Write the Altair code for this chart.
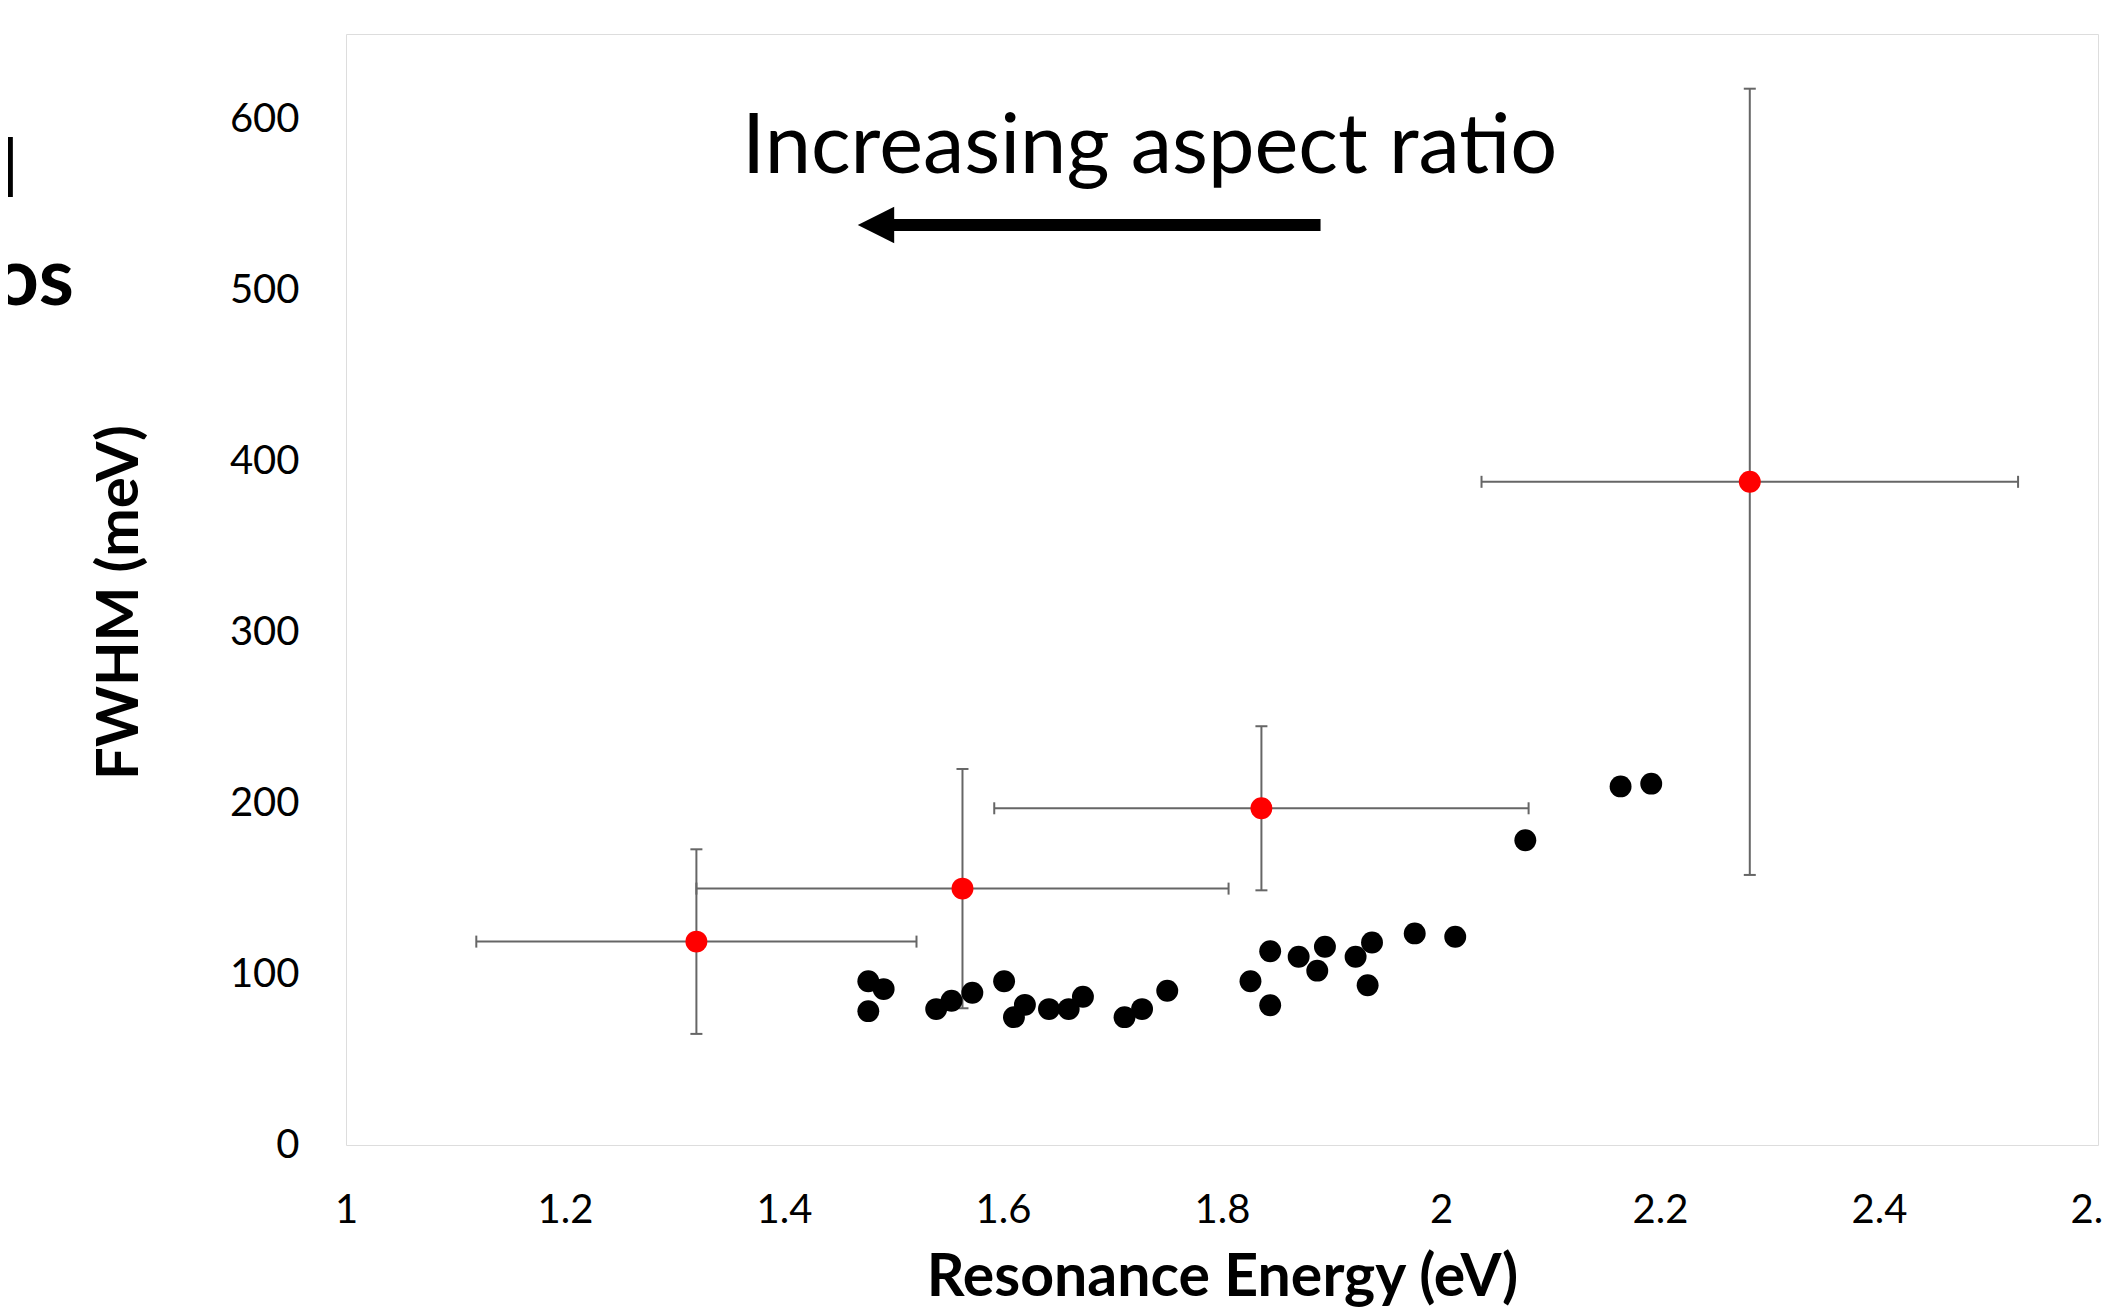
import altair as alt
import pandas as pd

# ---- data ----
black_x = [1.477, 1.491, 1.477, 1.539, 1.553, 1.572, 1.601, 1.610, 1.620, 1.642,
           1.660, 1.673, 1.711, 1.727, 1.750, 1.826, 1.844, 1.844, 1.870, 1.887,
           1.894, 1.922, 1.933, 1.937, 1.976, 2.013, 2.077, 2.164, 2.192]
black_y = [95.8, 91.2, 78.3, 79.5, 84.4, 89.1, 95.8, 74.8, 82.0, 79.5,
           79.5, 86.7, 74.8, 79.5, 90.2, 95.8, 113.4, 81.8, 110.1, 102.0,
           116.0, 110.1, 93.5, 118.5, 123.8, 121.8, 178.3, 209.8, 211.4]

red_x = [1.320, 1.563, 1.836, 2.282]
red_y = [119, 150, 197, 388]
red_xerr = [0.201, 0.243, 0.244, 0.245]
red_yerr = [54, 70, 48, 230]

x_ticks = [1, 1.2, 1.4, 1.6, 1.8, 2, 2.2, 2.4, 2.6]
y_ticks = [0, 100, 200, 300, 400, 500, 600]

# annotation (data units)
note_text = ["Increasing aspect ratio"]
note_x = [1.734]
note_y = [568.5]
arrow_tail_x = [1.890]
arrow_base_x = [1.497]
arrow_head_x = [1.484]
arrow_y = [538.3]

# cropped text fragments at the figure's left edge
frag_text = ["l", "os"]

FONT = "Lato"
ERR_COLOR = "#666666"

black_df = pd.DataFrame({"E": black_x, "F": black_y})
red_df = pd.DataFrame({"E": red_x, "F": red_y, "dx": red_xerr, "dy": red_yerr})
red_df["xlo"] = red_df["E"] - red_df["dx"]
red_df["xhi"] = red_df["E"] + red_df["dx"]
red_df["ylo"] = red_df["F"] - red_df["dy"]
red_df["yhi"] = red_df["F"] + red_df["dy"]

x_scale = alt.Scale(domain=[1, 2.6], nice=False, zero=False)
y_scale = alt.Scale(domain=[0, 650], nice=False, zero=False)

x_axis = alt.Axis(values=x_ticks, format="~g", grid=False, ticks=False, domain=False,
                  labelFont=FONT, labelFontSize=40, labelColor="black", labelPadding=45,
                  labelFlush=False, labelOverlap=False,
                  title="Resonance Energy (eV)", titleFont=FONT, titleFontSize=59,
                  titleFontWeight="bold", titleColor="black", titleBaseline="middle",
                  titleY=132, titleX=876)
y_axis = alt.Axis(values=y_ticks, format="d", grid=False, ticks=False, domain=False,
                  labelFont=FONT, labelFontSize=40, labelColor="black", labelPadding=47,
                  labelFlush=False, labelOverlap=False,
                  title="FWHM (meV)", titleFont=FONT, titleFontSize=58,
                  titleFontWeight="bold", titleColor="black", titleAngle=270,
                  titleAlign="center", titleBaseline="middle", titleX=-226, titleY=568)


def X(field):
    return alt.X(field, type="quantitative", scale=x_scale, axis=x_axis)


def Y(field):
    return alt.Y(field, type="quantitative", scale=y_scale, axis=y_axis)


red_base = alt.Chart(red_df)

h_err = red_base.mark_rule(color=ERR_COLOR, strokeWidth=2).encode(x=X("xlo"), x2="xhi", y=Y("F"))
v_err = red_base.mark_rule(color=ERR_COLOR, strokeWidth=2).encode(x=X("E"), y=Y("ylo"), y2="yhi")
cap_xlo = red_base.mark_tick(orient="vertical", size=12, thickness=2, color=ERR_COLOR, opacity=1).encode(x=X("xlo"), y=Y("F"))
cap_xhi = red_base.mark_tick(orient="vertical", size=12, thickness=2, color=ERR_COLOR, opacity=1).encode(x=X("xhi"), y=Y("F"))
cap_ylo = red_base.mark_tick(orient="horizontal", size=12, thickness=2, color=ERR_COLOR, opacity=1).encode(x=X("E"), y=Y("ylo"))
cap_yhi = red_base.mark_tick(orient="horizontal", size=12, thickness=2, color=ERR_COLOR, opacity=1).encode(x=X("E"), y=Y("yhi"))

black_pts = alt.Chart(black_df).mark_point(filled=True, shape="circle", size=480, color="black",
                                            opacity=1, strokeWidth=0).encode(x=X("E"), y=Y("F"))
red_pts = red_base.mark_point(filled=True, shape="circle", size=480, color="#ff0000",
                              opacity=1, strokeWidth=0).encode(x=X("E"), y=Y("F"))

note_df = pd.DataFrame({"t": note_text, "E": note_x, "F": note_y})
note = alt.Chart(note_df).mark_text(font=FONT, fontSize=83, color="black", align="center",
                                     baseline="alphabetic").encode(x=X("E"), y=Y("F"), text="t:N")

shaft_df = pd.DataFrame({"a": arrow_base_x, "b": arrow_tail_x, "F": arrow_y})
shaft = alt.Chart(shaft_df).mark_rule(color="black", strokeWidth=12, strokeCap="butt").encode(
    x=X("a"), x2="b", y=Y("F"))
head_df = pd.DataFrame({"E": arrow_head_x, "F": arrow_y})
head = alt.Chart(head_df).mark_point(shape="M 1 -1 L -1 0 L 1 1 Z", filled=True, size=1330,
                                      color="black", opacity=1, strokeWidth=0).encode(x=X("E"), y=Y("F"))

main = alt.layer(
    h_err, v_err, cap_xlo, cap_xhi, cap_ylo, cap_yhi,
    black_pts, red_pts, shaft, head, note,
)

frag_df = pd.DataFrame({"t": frag_text, "px": [-328, -272], "py": [163, 271]})
frags = alt.Chart(frag_df).mark_text(font=FONT, fontSize=80, fontWeight="bold", color="black",
                                      align="right", baseline="alphabetic").encode(
    x=alt.X("px:Q", scale=None, axis=None), y=alt.Y("py:Q", scale=None, axis=None), text="t:N")

chart = alt.layer(main, frags).properties(
    width=1752, height=1111,
    autosize=alt.AutoSizeParams(type="none"),
    padding={"left": 338, "top": 26, "right": 4, "bottom": 162},
    background="white",
).configure_view(stroke="#c6c6c6", strokeWidth=2).configure(font=FONT)

chart.save("out.html", embed_options={"renderer": "svg", "actions": False})
